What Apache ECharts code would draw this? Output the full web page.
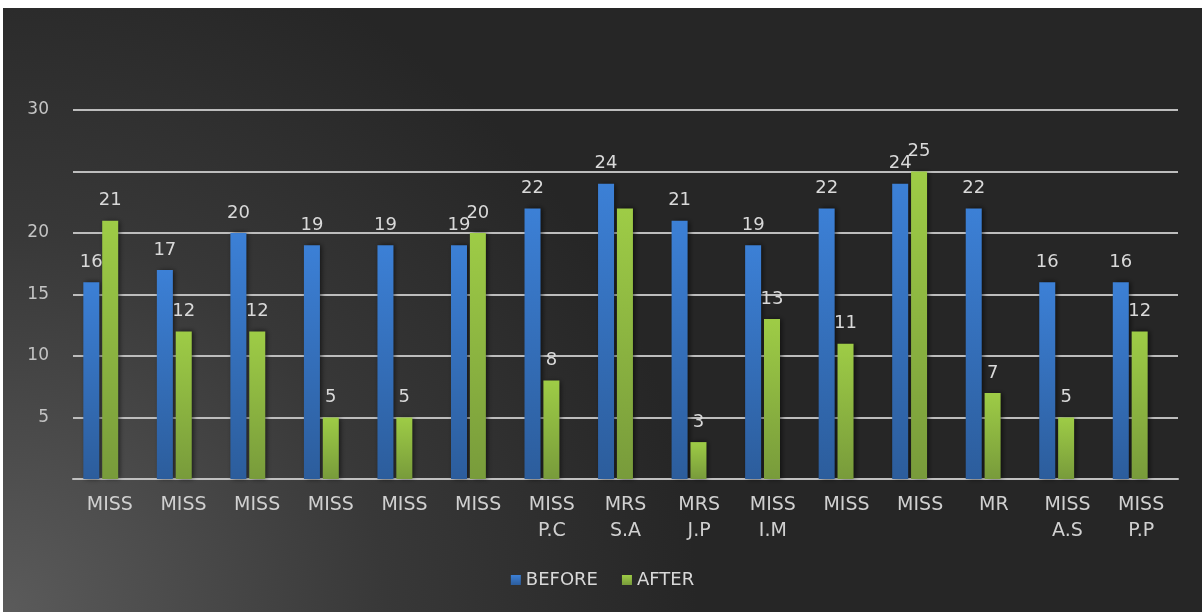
<!DOCTYPE html>
<html>
<head>
<meta charset="utf-8">
<script src="https://cdn.jsdelivr.net/npm/echarts@6/dist/echarts.min.js"></script>
<style>
html,body{margin:0;padding:0;background:#ffffff;width:1202px;height:612px;overflow:hidden;}
#chart{position:absolute;left:3px;top:8px;width:1199px;height:604px;}
</style>
</head>
<body>
<div id="chart"></div>
<script>
var categories = ['MISS','MISS','MISS','MISS','MISS','MISS','MISS\nP.C','MRS\nS.A','MRS\nJ.P','MISS\nI.M','MISS','MISS','MR','MISS\nA.S','MISS\nP.P'];
var before = [16,17,20,19,19,19,22,24,21,19,22,24,22,16,16];
var after = [21,12,12,5,5,20,8,22,3,13,11,25,7,5,12];
var hiddenAfterLabels = [7];
var yTicks = [5,10,15,20,30];

var chart = echarts.init(document.getElementById('chart'));
var font = 'DejaVu Sans';
var afterData = after.map(function(v,i){
  return hiddenAfterLabels.indexOf(i) >= 0 ? {value:v,label:{show:false}} : v;
});
function grad(top,bottom){
  return new echarts.graphic.LinearGradient(0,0,0,1,[{offset:0,color:top},{offset:1,color:bottom}]);
}
chart.setOption({
  backgroundColor:{type:'radial',x:0,y:1,r:1.15,colorStops:[{offset:0,color:'#5b5b5b'},{offset:0.55,color:'#383838'},{offset:1,color:'#262626'}]},
  animation:false,
  legend:{
    bottom:18,left:'center',itemWidth:10,itemHeight:10,itemGap:24,icon:'rect',
    textStyle:{color:'#d9d9d9',fontFamily:font,fontSize:18},
    data:['BEFORE','AFTER']
  },
  grid:[
    {left:70,right:24,top:102,bottom:133},
    {left:61,right:35,top:102,bottom:133}
  ],
  xAxis:[
    {type:'category',gridIndex:0,data:categories,
     axisLine:{show:true,lineStyle:{color:'#c0c0c0',width:2}},
     axisTick:{show:false},
     axisLabel:{color:'#d0d0d0',fontFamily:font,fontSize:19,lineHeight:26,margin:13,interval:0}},
    {type:'category',gridIndex:1,data:categories,show:false}
  ],
  yAxis:[
    {type:'value',gridIndex:0,min:0,max:30,interval:5,
     axisLine:{show:false},axisTick:{show:false},
     splitLine:{lineStyle:{color:'#bdbdbd',width:2}},
     axisLabel:{color:'#c4c4c4',fontFamily:font,fontSize:17,margin:24,
       formatter:function(v){return yTicks.indexOf(v)>=0?String(v):'';}}},
    {type:'value',gridIndex:1,min:0,max:30,interval:5,show:false}
  ],
  series:[
    {name:'BEFORE',type:'bar',xAxisIndex:1,yAxisIndex:1,data:before,barWidth:16,barGap:'18%',
     itemStyle:{color:grad('#3c80d6','#2c5d9c'),shadowBlur:5,shadowColor:'rgba(0,0,0,0.6)',shadowOffsetX:2},
     label:{show:true,position:'top',distance:11,color:'#d9d9d9',fontFamily:font,fontSize:18}},
    {name:'AFTER',type:'bar',xAxisIndex:1,yAxisIndex:1,data:afterData,barWidth:16,barGap:'18%',
     itemStyle:{color:grad('#9ecc46','#789b3b'),shadowBlur:5,shadowColor:'rgba(0,0,0,0.6)',shadowOffsetX:2},
     label:{show:true,position:'top',distance:11,color:'#d9d9d9',fontFamily:font,fontSize:18}}
  ]
});
</script>
</body>
</html>
